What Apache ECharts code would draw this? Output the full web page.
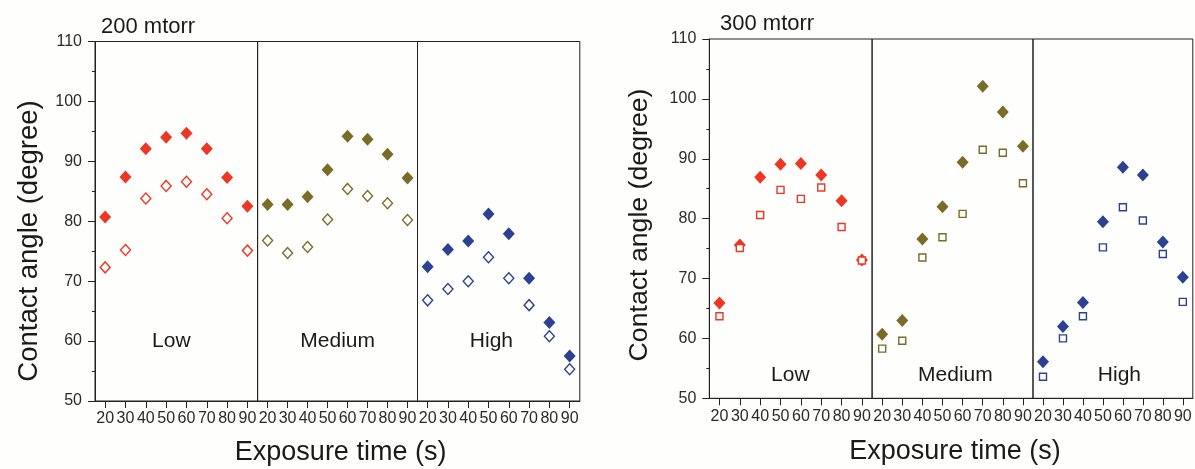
<!DOCTYPE html>
<html>
<head>
<meta charset="utf-8">
<script src="https://cdn.jsdelivr.net/npm/echarts@6/dist/echarts.min.js"></script>
<style>
html,body{margin:0;padding:0;background:#fefefc;}
#chart{width:1195px;height:469px;}
</style>
</head>
<body>
<div id="chart"></div>
<script>
// ---- data ----
const categories = ['20', '30', '40', '50', '60', '70', '80', '90'];
const groupNames = ['Low', 'Medium', 'High'];
const panelTitles = ['200 mtorr', '300 mtorr'];
const yTitle = 'Contact angle (degree)';
const xTitle = 'Exposure time (s)';

// 200 mtorr
const m200LowFilled    = [80.7, 87.4, 92.1, 94.0, 94.7, 92.1, 87.3, 82.5];
const m200LowOpen      = [72.3, 75.2, 83.8, 85.9, 86.6, 84.5, 80.5, 75.1];
const m200MediumFilled = [82.8, 82.8, 84.1, 88.6, 94.2, 93.7, 91.2, 87.2];
const m200MediumOpen   = [76.8, 74.7, 75.7, 80.3, 85.4, 84.2, 83.0, 80.2];
const m200HighFilled   = [72.4, 75.3, 76.7, 81.2, 77.9, 70.5, 63.1, 57.5];
const m200HighOpen     = [66.8, 68.7, 70.0, 74.0, 70.5, 66.0, 60.8, 55.3];

// 300 mtorr
const m300LowFilled    = [65.9, 75.6, 86.9, 89.1, 89.2, 87.3, 83.0, 73.1];
const m300LowOpen      = [63.7, 75.1, 80.6, 84.8, 83.3, 85.2, 78.6, 73.0];
const m300MediumFilled = [60.7, 63.0, 76.6, 82.0, 89.4, 102.1, 97.8, 92.1];
const m300MediumOpen   = [58.3, 59.6, 73.5, 76.9, 80.8, 91.5, 91.0, 85.9];
const m300HighFilled   = [56.1, 62.0, 66.0, 79.5, 88.6, 87.3, 76.1, 70.2];
const m300HighOpen     = [53.6, 60.0, 63.7, 75.2, 81.9, 79.7, 74.1, 66.1];

const groupColors = ['#ee3624', '#7a6b27', '#2c4192'];

// ---- layout (not data) ----
const FONT = '"Liberation Sans", Arial, sans-serif';
const panelLayout = [
  { lefts: [95, 257.6, 417.5], widths: [162.6, 159.9, 162.3], top: 41.5, height: 359.5,
    openSymbol: 'diamond', openSize: [10, 11] },
  { lefts: [709.3, 872.1, 1033], widths: [162.8, 160.9, 159.8], top: 39, height: 359.3,
    openSymbol: 'rect', openSize: [7, 7] }
];
const panelData = [
  { filled: [m200LowFilled, m200MediumFilled, m200HighFilled], open: [m200LowOpen, m200MediumOpen, m200HighOpen] },
  { filled: [m300LowFilled, m300MediumFilled, m300HighFilled], open: [m300LowOpen, m300MediumOpen, m300HighOpen] }
];

const grids = [], xAxes = [], yAxes = [], series = [];
const axisColor = '#222';
panelLayout.forEach((pl, p) => {
  for (let g = 0; g < 3; g++) {
    const idx = p * 3 + g;
    grids.push({ left: pl.lefts[g], top: pl.top, width: pl.widths[g], height: pl.height,
      show: true, borderColor: axisColor, borderWidth: 1, backgroundColor: 'transparent' });
    xAxes.push({
      type: 'category', gridIndex: idx, data: categories, boundaryGap: true,
      axisLine: { lineStyle: { color: axisColor, width: 1 } },
      axisTick: { show: true, alignWithLabel: true, length: 7, inside: false, lineStyle: { color: axisColor } },
      axisLabel: { interval: 0, fontSize: 16, color: '#2a2a2a', margin: 10, fontFamily: FONT },
      splitLine: { show: false }
    });
    yAxes.push({
      type: 'value', gridIndex: idx, min: 50, max: 110, interval: 10,
      show: g === 0,
      axisLine: { show: true, lineStyle: { color: axisColor, width: 1 } },
      axisTick: { show: true, length: 7, inside: false, lineStyle: { color: axisColor } },
      minorTick: { show: true, splitNumber: 2, length: 3, lineStyle: { color: axisColor } },
      axisLabel: { fontSize: 16, color: '#2a2a2a', margin: 13, fontFamily: FONT },
      splitLine: { show: false }, minorSplitLine: { show: false }
    });
    const col = groupColors[g];
    series.push({
      type: 'scatter', xAxisIndex: idx, yAxisIndex: idx,
      data: panelData[p].filled[g], symbol: 'diamond', symbolSize: [12, 13],
      itemStyle: { color: col, opacity: 1 }, silent: true, z: 3
    });
    series.push({
      type: 'scatter', xAxisIndex: idx, yAxisIndex: idx,
      data: panelData[p].open[g], symbol: pl.openSymbol, symbolSize: pl.openSize,
      itemStyle: { color: '#ffffff', borderColor: col, borderWidth: 1.4, opacity: 1 }, silent: true, z: 4
    });
  }
});

const textStyle = (txt, size) => ({ text: txt, fontSize: size, fontFamily: FONT, fill: '#1a1a1a',
  textAlign: 'center', textVerticalAlign: 'middle' });

const graphic = [
  { type: 'text', left: 101, top: 16, style: { text: panelTitles[0], fontSize: 22, fontFamily: FONT, fill: '#1a1a1a' } },
  { type: 'text', left: 720, top: 13, style: { text: panelTitles[1], fontSize: 22, fontFamily: FONT, fill: '#1a1a1a' } },
  { type: 'text', x: 29, y: 241, rotation: Math.PI / 2, style: textStyle(yTitle, 27.5) },
  { type: 'text', x: 640, y: 225, rotation: Math.PI / 2, style: textStyle(yTitle, 26.7) },
  { type: 'text', x: 340.6, y: 453, style: textStyle(xTitle, 27) },
  { type: 'text', x: 955, y: 452, style: textStyle(xTitle, 27) },
  { type: 'text', x: 171.3, y: 341, style: textStyle(groupNames[0], 21) },
  { type: 'text', x: 337.7, y: 341, style: textStyle(groupNames[1], 21) },
  { type: 'text', x: 491.4, y: 341, style: textStyle(groupNames[2], 21) },
  { type: 'text', x: 790.3, y: 375.5, style: textStyle(groupNames[0], 21) },
  { type: 'text', x: 955.4, y: 375.5, style: textStyle(groupNames[1], 21) },
  { type: 'text', x: 1119.4, y: 375.5, style: textStyle(groupNames[2], 21) }
];

const chart = echarts.init(document.getElementById('chart'), null, { renderer: 'canvas' });
chart.setOption({
  backgroundColor: '#fefefc',
  animation: false,
  grid: grids, xAxis: xAxes, yAxis: yAxes, series: series, graphic: graphic
});
</script>
</body>
</html>
